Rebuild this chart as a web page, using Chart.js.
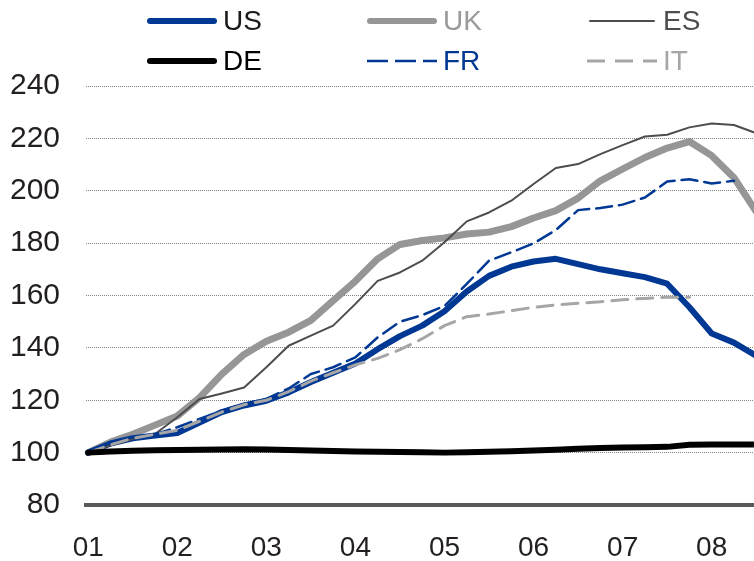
<!DOCTYPE html>
<html>
<head>
<meta charset="utf-8">
<title>House prices</title>
<style>
  html, body { margin: 0; padding: 0; background: #fff; }
  #wrap { width: 754px; height: 561px; position: relative; }
</style>
<script src="https://cdn.jsdelivr.net/npm/chart.js@4/dist/chart.umd.min.js"></script>
</head>
<body>
<div id="wrap"><canvas id="chart" width="754" height="561"></canvas></div>
<script>
// year tick labels, one every 4 quarters
const yearLabels = ['01', '02', '03', '04', '05', '06', '07', '08'];
const yTicks = [80, 100, 120, 140, 160, 180, 200, 220, 240];

// quarterly index values (01Q1 = 100)
const us = [100, 103.5, 105.5, 106.5, 107.5, 111.5, 115.5, 118, 119.8, 123, 127, 130.5, 134, 139.5, 144.5, 148.5,
            154, 161.5, 167.5, 171, 173, 174, 172, 170, 168.5, 167, 164.5, 155.5, 145.5, 142, 137];
const uk = [100, 104, 107, 110.5, 114, 121, 130, 137.5, 142.5, 146, 150.5, 158, 165.5, 174, 179.5, 181,
            182, 183.5, 184.2, 186.3, 189.6, 192.4, 197.2, 203.8, 208.3, 212.7, 216.3, 218.8, 213.4, 205, 192];
const es = [100, 102.7, 105.2, 107.1, 113.5, 120.5, 122.6, 124.9, 132.6, 140.8, 144.7, 148.5, 156.8, 165.6, 168.8, 173.3,
            180.3, 188.3, 191.7, 196.2, 202.6, 208.7, 210.2, 214, 217.4, 220.7, 221.4, 224.2, 225.7, 225.1, 222];
const de = [100, 100.4, 100.7, 100.9, 101, 101.1, 101.2, 101.3, 101.2, 101, 100.8, 100.6, 100.4, 100.3, 100.2, 100.1,
            100, 100.1, 100.3, 100.5, 100.8, 101.1, 101.5, 101.8, 102, 102.1, 102.2, 103, 103.1, 103.1, 103.1];
const fr = [100, 103.3, 105.8, 107, 109.7, 112.9, 116, 118.6, 120.5, 124.5, 130, 132.6, 136.4, 144, 150, 152.5,
            156, 164.4, 173.3, 176.5, 179.9, 185, 192.6, 193.4, 194.7, 197.4, 203.5, 204.4, 202.8, 203.8];
const it = [100, 103, 105.5, 107, 108.5, 112, 115.5, 118.3, 120, 123.3, 127.3, 130.5, 133.5, 136, 139.3, 143.5,
            148.5, 151.9, 152.9, 154.2, 155.5, 156.4, 157, 157.6, 158.4, 158.9, 159.3, 159.3];

const FONT = '"Liberation Sans", Arial, sans-serif';
const toPoints = vals => vals.map((v, i) => ({ x: i, y: v }));

// legend drawn as a 3 x 2 grid above the plot
const gridLegend = {
    id: 'gridLegend',
    afterDraw(chart) {
        const ctx = chart.ctx;
        chart.data.datasets.forEach((ds, i) => {
            const col = i % 3;
            const row = Math.floor(i / 3);
            const x0 = 147 + col * 220;
            const y = 21 + row * 40;
            ctx.save();
            ctx.strokeStyle = ds.borderColor;
            ctx.lineWidth = ds.legendWidth;
            ctx.setLineDash(ds.legendDash || []);
            ctx.lineCap = ds.legendDash ? 'butt' : 'round';
            ctx.beginPath();
            ctx.moveTo(x0 + (ds.legendDash ? 0 : 3), y);
            ctx.lineTo(x0 + (ds.legendDash ? 70 : 67), y);
            ctx.stroke();
            ctx.setLineDash([]);
            ctx.fillStyle = ds.legendTextColor;
            ctx.font = '28px ' + FONT;
            ctx.textBaseline = 'middle';
            ctx.textAlign = 'left';
            ctx.fillText(ds.label, x0 + 76, y + 1);
            ctx.restore();
        });
    }
};

const chart = new Chart(document.getElementById('chart'), {
    type: 'line',
    data: {
        datasets: [
            { label: 'US', data: toPoints(us), borderColor: '#003893', borderWidth: 6, order: 4,
              legendWidth: 6, legendTextColor: '#1a1a1a' },
            { label: 'UK', data: toPoints(uk), borderColor: '#969696', borderWidth: 7, order: 5,
              legendWidth: 6, legendTextColor: '#9a9a9a' },
            { label: 'ES', data: toPoints(es), borderColor: '#4d4d4d', borderWidth: 2, order: 3,
              legendWidth: 2, legendTextColor: '#4d4d4d' },
            { label: 'DE', data: toPoints(de), borderColor: '#000000', borderWidth: 6, order: 0,
              legendWidth: 6, legendTextColor: '#000000' },
            { label: 'FR', data: toPoints(fr), borderColor: '#003893', borderWidth: 2.5, order: 2,
              borderDash: [16, 7], legendWidth: 2.7, legendDash: [21, 7], legendTextColor: '#003893' },
            { label: 'IT', data: toPoints(it), borderColor: '#a6a6a6', borderWidth: 3, order: 1,
              borderDash: [16, 9], legendWidth: 3, legendDash: [18, 10], legendTextColor: '#a6a6a6' }
        ]
    },
    options: {
        responsive: false,
        animation: false,
        events: [],
        layout: { padding: { top: 86, right: 0, bottom: 0, left: 0 } },
        elements: {
            point: { radius: 0 },
            line: { tension: 0, borderCapStyle: 'round', borderJoinStyle: 'round', fill: false }
        },
        datasets: { line: { clip: false } },
        plugins: { legend: { display: false }, tooltip: { enabled: false } },
        scales: {
            x: {
                type: 'linear',
                min: -0.1,
                max: 29.9,
                grid: { display: false, drawTicks: false },
                border: { display: true, color: '#595959', width: 4 },
                afterBuildTicks: scale => { scale.ticks = yearLabels.map((l, i) => ({ value: i * 4 })); },
                afterFit: scale => { scale.height = 56; },
                ticks: {
                    padding: 26,
                    color: '#231f20',
                    font: { family: FONT, size: 28 },
                    callback: v => yearLabels[Math.round(v / 4)]
                }
            },
            y: {
                min: 80,
                max: 240,
                grid: { color: '#808080', lineWidth: 1, drawTicks: false },
                border: { display: false, dash: [1, 1] },
                afterBuildTicks: scale => { scale.ticks = yTicks.map(v => ({ value: v })); },
                afterFit: scale => { scale.width = 86; },
                ticks: {
                    padding: 26,
                    color: '#231f20',
                    font: { family: FONT, size: 30 }
                }
            }
        }
    },
    plugins: [gridLegend]
});
</script>
</body>
</html>
